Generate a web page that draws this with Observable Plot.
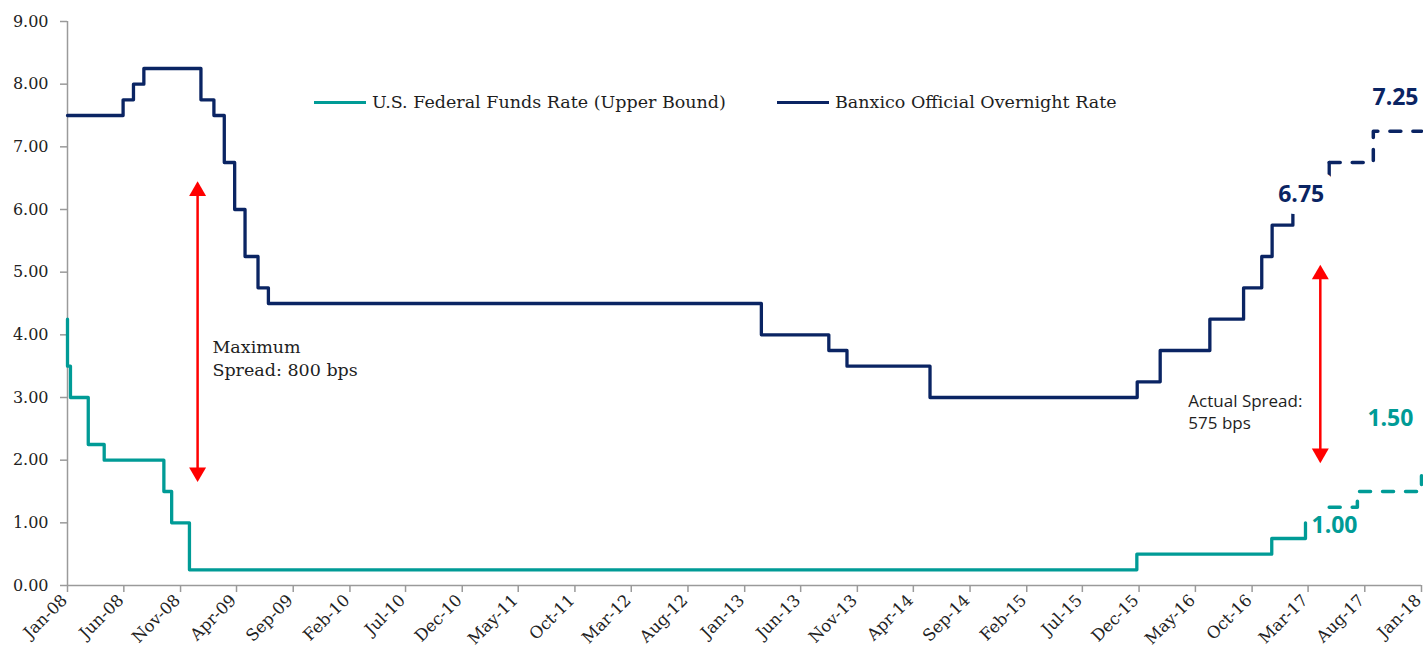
<!DOCTYPE html>
<html>
<head>
<meta charset="utf-8">
<script src="https://cdn.jsdelivr.net/npm/d3@7"></script>
<script src="https://cdn.jsdelivr.net/npm/@observablehq/plot@0.6"></script>
<style>
  body { margin: 0; background: #ffffff; }
  #wrap { position: relative; width: 1423px; height: 651px; overflow: hidden; }
  .lg { position: absolute; top: 90px; height: 24px; display: flex; align-items: center;
        font-family: "DejaVu Serif"; font-size: 17.5px; color: #1e1e1e; white-space: nowrap; }
  .lg .sw { display: inline-block; width: 52px; height: 3px; margin-right: 6px; }
</style>
</head>
<body>
<div id="wrap"></div>
<script>
// ---------------- data ----------------
const seriesNames = ["U.S. Federal Funds Rate (Upper Bound)", "Banxico Official Overnight Rate"];

// U.S. Federal Funds Rate (upper bound), actual
const fedDates  = ["2008-01-22","2008-01-22","2008-01-30","2008-03-18","2008-04-30","2008-10-08","2008-10-29","2008-12-16","2015-12-16","2016-12-14","2017-03-15"];
const fedValues = [4.25, 3.50, 3.00, 2.25, 2.00, 1.50, 1.00, 0.25, 0.50, 0.75, 1.00];
// U.S. Federal Funds Rate, projection (dashed)
const fedProjDates  = ["2017-05-18","2017-08-02","2018-01-22"];
const fedProjValues = [1.25, 1.50, 1.75];

// Banxico official overnight rate, actual
const banxDates  = ["2008-01-22","2008-06-20","2008-07-18","2008-08-15","2009-01-16","2009-02-20","2009-03-20","2009-04-17","2009-05-15","2009-06-19","2009-07-17","2013-03-08","2013-09-06","2013-10-25","2014-06-06","2015-12-17","2016-02-17","2016-06-30","2016-09-29","2016-11-17","2016-12-15","2017-02-09","2017-03-30","2017-05-18"];
const banxValues = [7.50, 7.75, 8.00, 8.25, 7.75, 7.50, 6.75, 6.00, 5.25, 4.75, 4.50, 4.00, 3.75, 3.50, 3.00, 3.25, 3.75, 4.25, 4.75, 5.25, 5.75, 6.25, 6.50, 6.75];
// Banxico projection (dashed)
const banxProjDates  = ["2017-05-18","2017-09-14","2018-01-22"];
const banxProjValues = [6.75, 7.25, 7.25];

// spread annotations
const arrowDates = ["2009-01-07","2017-04-24"];
const arrowLow   = [1.65, 1.95];
const arrowHigh  = [6.45, 5.12];
const noteTexts  = ["Maximum\nSpread: 800 bps", "Actual Spread:\n575 bps"];
const noteDates  = ["2009-02-16","2016-05-03"];
const noteValues = [3.65, 2.79];

// axes
const xDomain    = ["2008-01-22","2018-01-22"];
const tickLabels = ["Jan-08","Jun-08","Nov-08","Apr-09","Sep-09","Feb-10","Jul-10","Dec-10","May-11","Oct-11","Mar-12","Aug-12","Jan-13","Jun-13","Nov-13","Apr-14","Sep-14","Feb-15","Jul-15","Dec-15","May-16","Oct-16","Mar-17","Aug-17","Jan-18"];
const yTicks     = [0, 1, 2, 3, 4, 5, 6, 7, 8, 9];

// ---------------- build ----------------
const TEAL = "#009B96", NAVY = "#0A2463", RED = "#FF0000", AXIS = "#9a9a9a";
const parse = d3.utcParse("%Y-%m-%d");
const zip = (ds, vs) => ds.map((d, i) => ({date: parse(d), value: vs[i]}));

const fed      = zip(fedDates, fedValues);
const fedProj  = zip(fedProjDates, fedProjValues);
const banx     = zip(banxDates, banxValues);
const banxProj = zip(banxProjDates, banxProjValues);
const arrows   = arrowDates.map((d, i) => ({date: parse(d), lo: arrowLow[i], hi: arrowHigh[i]}));
const notes    = noteTexts.map((t, i) => ({text: t, date: parse(noteDates[i]), value: noteValues[i]}));
const tickDates = tickLabels.map(l => d3.utcDay.offset(d3.utcParse("%b-%y")(l), 21));
const x0 = parse(xDomain[0]), x1 = parse(xDomain[1]);

const lastOf = a => [a[a.length - 1]];
const fed150 = [fedProj[1]];

const chart = Plot.plot({
  width: 1423, height: 651,
  marginLeft: 67, marginRight: 2, marginTop: 21, marginBottom: 66,
  style: {fontFamily: "DejaVu Serif", fontSize: "16px", background: "white", overflow: "visible"},
  x: {type: "utc", domain: [x0, x1]},
  y: {domain: [0, 9]},
  marks: [
    // x tick lines
    Plot.axisX(tickDates, {tickFormat: () => "", tickSize: 7, stroke: AXIS, strokeWidth: 1.5, label: null}),
    // x tick labels (rotated)
    Plot.axisX(tickDates, {tickFormat: (d, i) => tickLabels[i], tickRotate: -45, tickSize: 0, tickPadding: 12,
      fill: "#222", fontSize: 16.5, label: null, dx: -3}),
    Plot.axisY(yTicks, {tickFormat: d3.format(".2f"), tickSize: 7, tickPadding: 12,
      stroke: AXIS, strokeWidth: 1.5, fill: "#222", fontSize: 16, label: null}),
    Plot.ruleY([0], {stroke: AXIS, strokeWidth: 1.5}),
    Plot.ruleX([x0], {stroke: AXIS, strokeWidth: 1.5}),

    Plot.line(fed,  {x: "date", y: "value", curve: "step-after", stroke: TEAL, strokeWidth: 3.3}),
    Plot.line(banx, {x: "date", y: "value", curve: "step-after", stroke: NAVY, strokeWidth: 3.3}),

    // value labels
    Plot.text(lastOf(banx), {x: "date", y: "value", text: () => "6.75", dx: -28, dy: 32,
      fontFamily: "Open Sans", fontWeight: "bold", fontSize: 23, fill: NAVY,
      stroke: "white", strokeWidth: 24, strokeLinejoin: "round", paintOrder: "stroke"}),
    Plot.text(lastOf(fed), {x: "date", y: "value", text: () => "1.00", dx: 29, dy: 3,
      fontFamily: "Open Sans", fontWeight: "bold", fontSize: 23, fill: TEAL}),

    Plot.line(fedProj,  {x: "date", y: "value", curve: "step-after", stroke: TEAL, strokeWidth: 3.5,
      strokeDasharray: "11,12", strokeLinecap: "round"}),
    Plot.line(banxProj, {x: "date", y: "value", curve: "step-after", stroke: NAVY, strokeWidth: 3.5,
      strokeDasharray: "11,12", strokeLinecap: "round"}),

    Plot.text(lastOf(banxProj), {x: "date", y: "value", text: () => "7.25", dx: -26, dy: -34,
      fontFamily: "Open Sans", fontWeight: "bold", fontSize: 23, fill: NAVY}),
    Plot.text(fed150, {x: "date", y: "value", text: () => "1.50", dx: 33, dy: -73,
      fontFamily: "Open Sans", fontWeight: "bold", fontSize: 23, fill: TEAL}),

    // spread arrows
    Plot.ruleX(arrows, {x: "date", y1: "hi", y2: "lo", stroke: RED, strokeWidth: 2.5, insetTop: 8, insetBottom: 8}),
    Plot.dot(arrows, {x: "date", y: "hi", symbol: "triangle", r: 6.3, fill: RED, stroke: null, dy: 9.8}),
    Plot.dot(arrows, {x: "date", y: "lo", symbol: "triangle", r: 6.3, fill: RED, stroke: null, dy: -9.8, rotate: 180}),

    // notes
    Plot.text(notes.slice(0, 1), {x: "date", y: "value", text: "text", textAnchor: "start", lineHeight: 1.32,
      fontFamily: "DejaVu Serif", fontSize: 17.5, fill: "#1e1e1e"}),
    Plot.text(notes.slice(1), {x: "date", y: "value", text: "text", textAnchor: "start", lineHeight: 1.35,
      fontFamily: "Open Sans", fontSize: 17, fill: "#1e1e1e"})
  ]
});

const wrap = document.getElementById("wrap");
wrap.appendChild(chart);

// legend (overlaid inside the plot area, as in the original)
const legendItems = [
  {name: seriesNames[0], color: TEAL, left: 314},
  {name: seriesNames[1], color: NAVY, left: 777}
];
for (const it of legendItems) {
  const el = document.createElement("div");
  el.className = "lg";
  el.style.left = it.left + "px";
  el.innerHTML = `<span class="sw" style="background:${it.color}"></span><span>${it.name}</span>`;
  wrap.appendChild(el);
}
</script>
</body>
</html>
